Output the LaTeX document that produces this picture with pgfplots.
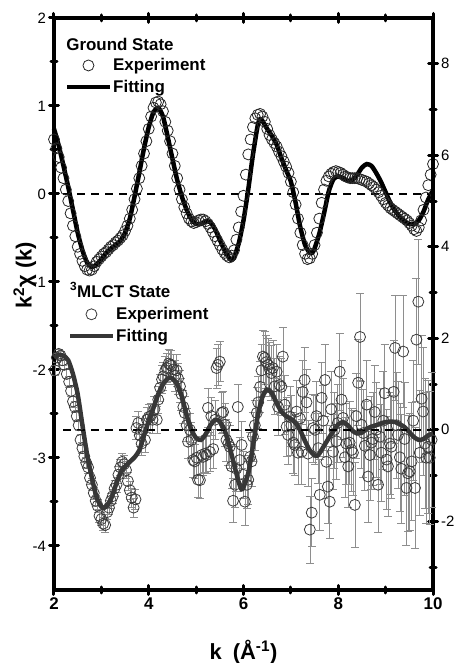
\documentclass[border=0pt]{standalone}
\usepackage{pgfplots}
\pgfplotsset{compat=1.18}
\usepackage{fontspec}
\setmainfont{Liberation Sans}
\definecolor{fitgray}{HTML}{363636}
\definecolor{bargray}{HTML}{8E8E8E}
\definecolor{circgray}{HTML}{3A3A3A}
\pgfplotsset{
  myaxis/.style={
    scale only axis, width=379bp, height=572bp,
    xmin=2, xmax=10,
    axis line style={line width=3.5bp},
    tick align=center,
    major tick length=9bp, minor tick length=6bp,
    every tick/.style={line width=3bp, line cap=round, black},
    /pgf/number format/assume math mode=true,
    clip=false,
    legend cell align=left,
    legend image code/.code={\draw[mark repeat=2,mark phase=2,##1] plot coordinates {(0bp,0bp) (21bp,0bp) (42bp,0bp)};},
  },
  mylegend/.style={draw=none, fill=none, inner sep=0pt, row sep=5bp,
    font=\bfseries\fontsize{17}{17}\selectfont, nodes={inner sep=1.5bp}},
}
\begin{document}
\begin{tikzpicture}
\begin{axis}[myaxis,
  ymin=-4.5, ymax=2,
  ytick={-4,-3,-2,-1,0,1,2},
  minor ytick={-3.5,-2.5,-1.5,-0.5,0.5,1.5},
  ytick pos=left,
  xtick={2,4,6,8,10}, minor xtick={3,5,7,9},
  xticklabel style={font=\bfseries\fontsize{17}{17}\selectfont},
  yticklabel style={font=\fontsize{15}{15}\selectfont},
  xlabel={k\enspace(Å\textsuperscript{-1})},
  ylabel={k\textsuperscript{2}χ (k)},
  every axis x label/.style={at={(axis description cs:0.5,-0.108)}, anchor=center, font=\bfseries\fontsize{22}{22}\selectfont},
  every axis y label/.style={at={(axis description cs:-0.077,0.55)}, rotate=90, anchor=center, font=\bfseries\fontsize{22}{22}\selectfont},
  legend style={mylegend, at={(axis description cs:0.029,0.932)}, anchor=north west},
]
\coordinate (sw) at (rel axis cs:0,0);
\coordinate (ne) at (rel axis cs:1,1);
\addplot[only marks, mark=o, mark size=5.5bp, mark options={line width=0.8bp, draw=black!85}] coordinates {
(2.00,0.62) (2.05,0.52) (2.10,0.42) (2.15,0.30) (2.20,0.18) (2.25,0.05) (2.30,-0.08) (2.35,-0.22) (2.40,-0.36) (2.45,-0.48)
(2.50,-0.60) (2.55,-0.68) (2.60,-0.76) (2.65,-0.82) (2.70,-0.86) (2.75,-0.87) (2.80,-0.86) (2.85,-0.82) (2.90,-0.77) (2.95,-0.74)
(3.00,-0.71) (3.05,-0.68) (3.10,-0.66) (3.15,-0.63) (3.20,-0.60) (3.25,-0.58) (3.30,-0.55) (3.35,-0.53) (3.40,-0.50) (3.45,-0.47)
(3.50,-0.42) (3.55,-0.36) (3.60,-0.28) (3.65,-0.18) (3.70,-0.06) (3.75,0.06) (3.80,0.18) (3.85,0.32) (3.90,0.46) (3.95,0.60)
(4.00,0.74) (4.05,0.88) (4.10,0.98) (4.15,1.04) (4.20,1.05) (4.25,1.02) (4.30,0.94) (4.35,0.82) (4.40,0.72) (4.45,0.60)
(4.50,0.46) (4.55,0.32) (4.60,0.18) (4.65,0.05) (4.70,-0.06) (4.75,-0.15) (4.80,-0.22) (4.85,-0.28) (4.90,-0.31) (4.95,-0.33)
(5.00,-0.32) (5.05,-0.30) (5.10,-0.29) (5.15,-0.29) (5.20,-0.31) (5.25,-0.34) (5.30,-0.38) (5.35,-0.43) (5.40,-0.48) (5.45,-0.53)
(5.50,-0.58) (5.55,-0.63) (5.60,-0.67) (5.65,-0.70) (5.70,-0.72) (5.75,-0.70) (5.80,-0.64) (5.85,-0.52) (5.90,-0.38) (5.95,-0.20)
(6.00,-0.02) (6.05,0.22) (6.10,0.45) (6.15,0.62) (6.20,0.76) (6.25,0.86) (6.30,0.90) (6.35,0.91) (6.40,0.88) (6.45,0.82)
(6.50,0.74) (6.55,0.67) (6.60,0.62) (6.65,0.58) (6.70,0.54) (6.75,0.48) (6.80,0.43) (6.85,0.37) (6.90,0.31) (6.95,0.24)
(7.00,0.14) (7.05,0.02) (7.10,-0.12) (7.15,-0.28) (7.20,-0.44) (7.25,-0.58) (7.30,-0.68) (7.35,-0.74) (7.40,-0.73) (7.45,-0.68)
(7.50,-0.58) (7.55,-0.44) (7.60,-0.28) (7.65,-0.10) (7.70,0.05) (7.75,0.15) (7.80,0.20) (7.85,0.23) (7.90,0.25) (7.95,0.26)
(8.00,0.25) (8.05,0.24) (8.10,0.22) (8.15,0.20) (8.20,0.19) (8.25,0.18) (8.30,0.18) (8.35,0.18) (8.40,0.18) (8.45,0.17)
(8.50,0.16) (8.55,0.15) (8.60,0.14) (8.65,0.12) (8.70,0.10) (8.75,0.08) (8.80,0.05) (8.85,0.02) (8.90,-0.02) (8.95,-0.06)
(9.00,-0.10) (9.05,-0.13) (9.10,-0.16) (9.15,-0.18) (9.20,-0.20) (9.25,-0.22) (9.30,-0.24) (9.35,-0.26) (9.40,-0.28) (9.45,-0.30)
(9.50,-0.33) (9.55,-0.36) (9.60,-0.40) (9.65,-0.42) (9.70,-0.38) (9.75,-0.30) (9.80,-0.18) (9.85,-0.04) (9.90,0.10) (9.95,0.22)
(10.00,0.34)
};
\addlegendentry{Experiment}
\addplot[black, line width=4.5bp, smooth, tension=0.4] coordinates {
(2.00,0.74) (2.10,0.55) (2.20,0.32) (2.30,0.08) (2.40,-0.18) (2.50,-0.44) (2.60,-0.64) (2.70,-0.78) (2.80,-0.83) (2.90,-0.80)
(3.00,-0.74) (3.10,-0.67) (3.20,-0.62) (3.30,-0.58) (3.40,-0.53) (3.50,-0.44) (3.60,-0.28) (3.70,-0.03) (3.80,0.24) (3.90,0.52)
(4.00,0.76) (4.10,0.93) (4.20,0.98) (4.30,0.88) (4.40,0.65) (4.50,0.40) (4.60,0.16) (4.70,-0.03) (4.80,-0.18) (4.90,-0.29)
(5.00,-0.34) (5.10,-0.34) (5.20,-0.31) (5.30,-0.32) (5.40,-0.40) (5.50,-0.52) (5.60,-0.64) (5.70,-0.73) (5.75,-0.75) (5.80,-0.72)
(5.90,-0.56) (6.00,-0.30) (6.10,0.05) (6.20,0.45) (6.30,0.78) (6.35,0.85) (6.40,0.83) (6.50,0.74) (6.60,0.66) (6.70,0.56)
(6.80,0.41) (6.90,0.27) (7.00,0.14) (7.10,-0.10) (7.20,-0.38) (7.30,-0.58) (7.40,-0.67) (7.45,-0.67) (7.50,-0.62) (7.60,-0.45)
(7.70,-0.22) (7.80,0.03) (7.90,0.17) (8.00,0.20) (8.10,0.18) (8.20,0.15) (8.30,0.16) (8.40,0.22) (8.50,0.30) (8.60,0.34)
(8.70,0.32) (8.80,0.24) (8.90,0.14) (9.00,0.02) (9.10,-0.10) (9.20,-0.19) (9.30,-0.26) (9.40,-0.31) (9.50,-0.34) (9.60,-0.34)
(9.70,-0.30) (9.80,-0.20) (9.90,-0.06) (10.00,0.04)
};
\addlegendentry{Fitting}
\addplot[black, line width=1.5bp, dash pattern=on 8bp off 6bp, forget plot] coordinates {(2.19,0) (10,0)};
\node[anchor=base west, font=\bfseries\fontsize{17}{17}\selectfont, inner sep=0pt] at (axis description cs:0.032,0.944) {Ground State};
\end{axis}

\begin{axis}[myaxis,
  ymin=-3.5, ymax=9,
  axis y line*=right, hide x axis,
  ytick={-2,0,2,4,6,8},
  minor ytick={-3,-1,1,3,5,7},
  yticklabel style={font=\fontsize{15}{15}\selectfont},
  legend style={mylegend, at={(axis description cs:0.037,0.497)}, anchor=north west},
]
\addplot[only marks, mark=o, mark size=5.5bp, mark options={line width=0.8bp, draw=circgray},
  error bars/.cd, y dir=both, y explicit,
  error bar style={bargray, line width=0.6bp},
  error mark options={rotate=90, mark size=4bp, bargray, line width=0.6bp}]
  table[x=k, y=v, y error=e] {
k v e
2.02 1.30 0.10
2.06 1.58 0.10
2.10 1.66 0.10
2.14 1.62 0.10
2.18 1.52 0.10
2.22 1.42 0.10
2.27 1.22 0.10
2.32 1.05 0.12
2.36 0.85 0.12
2.40 0.62 0.12
2.44 0.50 0.12
2.48 0.30 0.12
2.52 0.10 0.12
2.56 -0.22 0.12
2.60 -0.40 0.12
2.64 -0.58 0.12
2.68 -0.72 0.12
2.72 -0.82 0.13
2.76 -1.05 0.13
2.80 -1.20 0.13
2.84 -1.38 0.13
2.88 -1.55 0.13
2.92 -1.66 0.14
2.96 -1.88 0.14
3.00 -1.95 0.14
3.04 -2.05 0.14
3.08 -2.08 0.15
3.12 -1.80 0.15
3.16 -1.70 0.15
3.20 -1.55 0.16
3.24 -1.45 0.16
3.28 -1.28 0.17
3.32 -1.20 0.17
3.36 -0.98 0.18
3.40 -0.82 0.18
3.44 -0.70 0.18
3.48 -0.75 0.19
3.52 -0.88 0.19
3.56 -1.12 0.20
3.60 -1.32 0.20
3.64 -1.48 0.21
3.68 -1.70 0.21
3.72 -1.52 0.22
3.74 0.04 0.25
3.78 0.15 0.25
3.81 -0.12 0.25
3.85 -0.30 0.26
3.88 0.00 0.26
3.92 -0.22 0.27
3.96 0.22 0.27
4.00 0.28 0.28
4.04 0.30 0.28
4.08 0.22 0.29
4.12 0.45 0.29
4.17 0.22 0.30
4.20 0.66 0.30
4.24 0.92 0.30
4.28 1.10 0.31
4.31 1.17 0.31
4.35 1.30 0.31
4.38 1.35 0.32
4.42 1.45 0.32
4.45 1.42 0.32
4.48 1.40 0.33
4.52 1.32 0.33
4.56 1.18 0.33
4.59 1.30 0.34
4.62 1.12 0.34
4.66 0.95 0.35
4.69 0.78 0.35
4.73 0.50 0.36
4.76 0.37 0.36
4.80 0.10 0.36
4.83 -0.26 0.37
4.87 0.00 0.37
4.90 -0.22 0.38
4.94 -0.66 0.38
4.97 -0.69 0.38
5.01 -0.61 0.39
5.04 -1.09 0.39
5.08 -1.10 0.40
5.12 -0.55 0.40
5.15 -0.59 0.40
5.19 -0.52 0.41
5.22 -0.55 0.41
5.25 0.48 0.42
5.29 -0.48 0.42
5.32 0.30 0.42
5.36 -0.42 0.43
5.40 0.22 0.43
5.43 1.35 0.44
5.46 1.42 0.44
5.50 1.49 0.44
5.54 0.37 0.45
5.57 0.39 0.45
5.61 0.11 0.46
5.64 -0.22 0.46
5.68 -0.30 0.47
5.71 -0.37 0.47
5.75 -0.80 0.48
5.78 -1.55 0.48
5.82 -1.20 0.49
5.85 -0.85 0.49
5.88 0.50 0.50
5.92 -0.66 0.50
5.96 -0.33 0.51
5.99 -0.98 0.51
6.03 -1.57 0.52
6.07 -1.20 0.52
6.10 -1.09 0.53
6.14 -0.59 0.53
6.17 -0.69 0.54
6.20 -0.15 0.54
6.24 0.10 0.55
6.28 0.37 0.55
6.31 0.60 0.56
6.35 0.94 0.56
6.38 1.30 0.57
6.41 1.60 0.57
6.45 1.57 0.58
6.48 1.48 0.58
6.52 1.42 0.59
6.55 1.33 0.59
6.59 1.24 0.60
6.62 1.35 0.60
6.66 0.95 0.61
6.70 1.27 0.61
6.73 0.50 0.62
6.76 0.98 0.62
6.80 0.94 0.63
6.83 1.60 0.63
6.87 0.55 0.64
6.91 0.07 0.65
6.94 -0.11 0.65
6.98 0.29 0.66
7.01 0.10 0.66
7.05 -0.28 0.67
7.08 -0.33 0.67
7.12 0.40 0.68
7.15 -0.50 0.69
7.19 0.25 0.69
7.23 -0.48 0.70
7.25 0.83 0.70
7.29 1.09 0.71
7.33 0.60 0.72
7.36 -0.52 0.72
7.40 -2.18 0.73
7.44 -1.81 0.74
7.47 0.04 0.74
7.51 0.00 0.75
7.54 0.30 0.76
7.58 -0.40 0.76
7.61 -1.42 0.77
7.65 0.70 0.78
7.68 0.20 0.78
7.72 1.09 0.79
7.75 -0.70 0.80
7.78 -1.24 0.80
7.82 -1.57 0.81
7.85 0.45 0.82
7.89 -0.48 0.82
7.92 0.00 0.83
7.96 -0.25 0.84
7.99 0.15 0.85
8.03 1.27 0.85
8.07 0.66 0.86
8.10 0.26 0.87
8.14 -0.60 0.88
8.17 -0.30 0.88
8.21 -0.80 0.89
8.24 -0.28 0.90
8.28 -0.44 0.91
8.31 -0.50 0.92
8.35 -1.64 0.92
8.38 0.30 0.93
8.42 1.03 0.94
8.46 2.03 0.95
8.49 0.11 0.96
8.53 -0.07 0.96
8.56 -0.35 0.97
8.60 0.55 0.98
8.63 -1.02 0.99
8.67 -0.55 1.00
8.70 -0.28 1.01
8.73 -0.20 1.02
8.77 0.39 1.03
8.80 0.00 1.03
8.84 -1.20 1.04
8.88 -0.15 1.05
8.91 -0.50 1.06
8.95 0.20 1.07
8.98 0.80 1.08
9.02 -0.65 1.09
9.05 -0.80 1.10
9.09 -0.30 1.11
9.12 -0.37 1.12
9.17 0.83 1.13
9.20 1.79 1.15
9.23 0.10 1.16
9.26 -0.11 1.17
9.30 -0.60 1.19
9.33 -0.85 1.20
9.37 1.71 1.22
9.40 -0.20 1.23
9.44 -1.27 1.25
9.47 -0.95 1.26
9.51 -0.91 1.28
9.55 -0.69 1.29
9.58 0.20 1.31
9.62 -1.27 1.32
9.65 1.97 1.34
9.69 2.80 1.36
9.72 -0.50 1.37
9.76 0.68 1.39
9.79 0.40 1.40
9.83 -0.30 1.42
9.86 -0.61 1.43
9.90 -0.37 1.45
9.93 -0.61 1.46
9.97 -0.22 1.48
};
\addlegendentry{Experiment}
\addplot[fitgray, line width=4.5bp, smooth, tension=0.4] coordinates {
(2.00,1.58) (2.10,1.64) (2.20,1.62) (2.30,1.52) (2.40,1.22) (2.50,0.78) (2.60,0.10) (2.70,-0.55) (2.80,-1.05) (2.90,-1.48)
(3.00,-1.68) (3.05,-1.71) (3.10,-1.68) (3.20,-1.52) (3.30,-1.22) (3.40,-0.95) (3.50,-0.80) (3.60,-0.70) (3.70,-0.60) (3.80,-0.45)
(3.90,-0.12) (4.00,0.20) (4.10,0.48) (4.20,0.78) (4.30,1.00) (4.40,1.12) (4.45,1.14) (4.50,1.12) (4.60,1.00) (4.70,0.72)
(4.80,0.32) (4.90,0.00) (5.00,-0.18) (5.10,-0.22) (5.20,-0.10) (5.30,0.10) (5.40,0.22) (5.45,0.22) (5.50,0.18) (5.60,0.00)
(5.70,-0.35) (5.80,-0.75) (5.90,-1.15) (5.96,-1.30) (6.00,-1.25) (6.10,-0.95) (6.20,-0.35) (6.30,0.30) (6.40,0.72) (6.50,0.88)
(6.60,0.80) (6.70,0.58) (6.80,0.40) (6.90,0.30) (7.00,0.24) (7.10,0.15) (7.20,-0.02) (7.30,-0.25) (7.40,-0.45) (7.50,-0.56)
(7.55,-0.57) (7.60,-0.52) (7.70,-0.35) (7.80,-0.18) (7.90,-0.02) (8.00,0.12) (8.10,0.17) (8.20,0.10) (8.30,-0.02) (8.40,-0.08)
(8.50,-0.06) (8.60,0.02) (8.70,0.07) (8.80,0.10) (8.90,0.14) (9.00,0.17) (9.10,0.18) (9.20,0.17) (9.30,0.12) (9.40,0.06)
(9.50,-0.05) (9.60,-0.16) (9.70,-0.22) (9.80,-0.20) (9.90,-0.12) (10.00,-0.08)
};
\addlegendentry{Fitting}
\addplot[black, line width=1.5bp, dash pattern=on 8bp off 6bp, forget plot] coordinates {(2.19,0) (10,0)};
\node[anchor=base west, font=\bfseries\fontsize{17}{17}\selectfont, inner sep=0pt] at (axis description cs:0.042,0.512) {\textsuperscript{3}MLCT State};
\end{axis}
\pgfresetboundingbox
\path ([shift={(-54bp,-73bp)}]sw) rectangle ([shift={(26bp,18bp)}]ne);
\end{tikzpicture}
\end{document}
